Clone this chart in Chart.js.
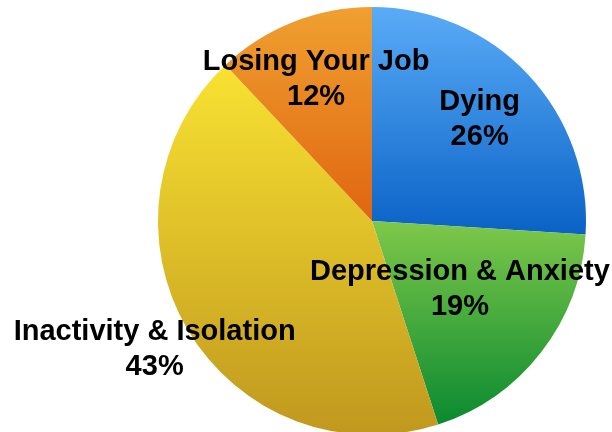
<!DOCTYPE html>
<html>
<head>
<meta charset="utf-8">
<script src="https://cdn.jsdelivr.net/npm/chart.js@4"></script>
<style>
  html, body { margin: 0; padding: 0; background: #ffffff; overflow: hidden; }
  #wrap { position: relative; width: 612px; height: 436px; }
</style>
</head>
<body>
<div id="wrap"><canvas id="c"></canvas></div>
<script>
const categories = ["Dying", "Depression & Anxiety", "Inactivity & Isolation", "Losing Your Job"];
const values = [26, 19, 43, 12];
const percentLabels = ["26%", "19%", "43%", "12%"];
const topColors = ["#5aacf7", "#7ec84a", "#f9e232", "#f0a030"];
const bottomColors = ["#0a62c6", "#0a8a30", "#c0981e", "#e06510"];
const labelRadius = [0.69, 0.52, 1.18, 0.71];

function sliceGradient(c) {
  const chart = c.chart;
  const area = chart.chartArea;
  const i = c.dataIndex;
  if (!area) return topColors[i];
  const cx = (area.left + area.right) / 2;
  const cy = (area.top + area.bottom) / 2;
  const r = Math.min(area.right - area.left, area.bottom - area.top) / 2;
  const total = values.reduce((a, b) => a + b, 0);
  let before = 0;
  for (let k = 0; k < i; k++) before += values[k];
  const a0 = -Math.PI / 2 + before / total * 2 * Math.PI;
  const a1 = a0 + values[i] / total * 2 * Math.PI;
  let minY = cy, maxY = cy;
  for (let s = 0; s <= 80; s++) {
    const a = a0 + (a1 - a0) * s / 80;
    const y = cy + r * Math.sin(a);
    if (y < minY) minY = y;
    if (y > maxY) maxY = y;
  }
  const g = chart.ctx.createLinearGradient(0, minY, 0, maxY);
  g.addColorStop(0, topColors[i]);
  g.addColorStop(1, bottomColors[i]);
  return g;
}

const labelPlugin = {
  id: 'sliceLabels',
  afterDraw(chart) {
    const ctx = chart.ctx;
    const meta = chart.getDatasetMeta(0);
    ctx.save();
    ctx.font = 'bold 29px "Liberation Sans", Arial, Helvetica, sans-serif';
    ctx.fillStyle = '#000000';
    ctx.textAlign = 'center';
    ctx.textBaseline = 'middle';
    meta.data.forEach((arc, i) => {
      const mid = (arc.startAngle + arc.endAngle) / 2;
      const d = arc.outerRadius * labelRadius[i];
      const x = arc.x + Math.cos(mid) * d;
      const y = arc.y + Math.sin(mid) * d;
      ctx.fillText(categories[i], x, y - 17.5);
      ctx.fillText(percentLabels[i], x, y + 17.5);
    });
    ctx.restore();
  }
};

new Chart(document.getElementById('c'), {
  type: 'pie',
  data: {
    labels: categories,
    datasets: [{
      data: values,
      backgroundColor: sliceGradient,
      borderWidth: 0
    }]
  },
  options: {
    responsive: true,
    maintainAspectRatio: false,
    animation: false,
    layout: { padding: { left: 158, right: 26, top: 7, bottom: 1 } },
    plugins: {
      legend: { display: false },
      tooltip: { enabled: false }
    }
  },
  plugins: [labelPlugin]
});
</script>
</body>
</html>
